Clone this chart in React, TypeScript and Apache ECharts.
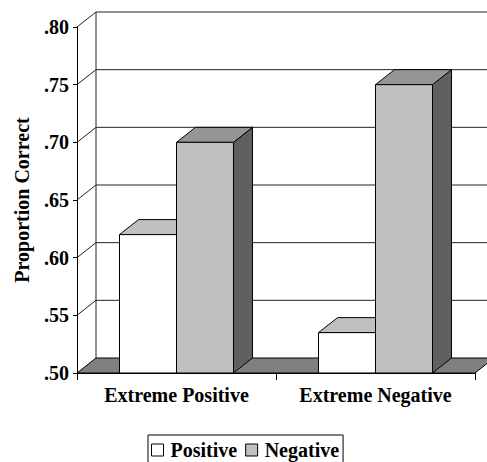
import React, { useEffect, useRef } from 'react';
import * as echarts from 'echarts';

const categories = ['Extreme Positive', 'Extreme Negative'];
const seriesNames = ['Positive', 'Negative'];
const positiveValues = [0.62, 0.535];
const negativeValues = [0.7, 0.75];
const yTicks = [0.5, 0.55, 0.6, 0.65, 0.7, 0.75, 0.8];

const FONT = "'Liberation Serif', 'Times New Roman', Times, serif";
const Y_MIN = 0.5;
const Y_MAX = 0.8;
const Y_STEP = 0.05;
const DX = 19;
const DY = 15;
const BAR_FRACTION = 0.2864;
const LINE = '#222';

function makeBarRenderer(leftSide: boolean, front: string, top: string, side: string) {
  return (params: any, api: any) => {
    const cat = api.value(0);
    const val = api.value(1);
    const topPt = api.coord([cat, val]);
    const basePt = api.coord([cat, Y_MIN]);
    const band = api.size([1, 0])[0];
    const w = band * BAR_FRACTION;
    const x = leftSide ? topPt[0] - w : topPt[0];
    const yT = topPt[1];
    const yB = basePt[1];
    const stroke = { stroke: '#000', lineWidth: 1 };
    return {
      type: 'group',
      children: [
        {
          type: 'polygon',
          shape: { points: [[x + w, yT], [x + w + DX, yT - DY], [x + w + DX, yB - DY], [x + w, yB]] },
          style: { fill: side, ...stroke },
        },
        {
          type: 'polygon',
          shape: { points: [[x, yT], [x + w, yT], [x + w + DX, yT - DY], [x + DX, yT - DY]] },
          style: { fill: top, ...stroke },
        },
        {
          type: 'rect',
          shape: { x, y: yT, width: w, height: yB - yT },
          style: { fill: front, ...stroke },
        },
      ],
    };
  };
}

function renderWalls(params: any, api: any) {
  const cs = params.coordSys;
  const x0 = cs.x;
  const x1 = cs.x + cs.width;
  const yTop = cs.y;
  const yBot = cs.y + cs.height;
  const children: any[] = [];
  yTicks.forEach((t) => {
    const y = api.coord([0, t])[1];
    if (t > Y_MIN) {
      children.push({
        type: 'line',
        shape: { x1: x0 + DX, y1: y - DY, x2: x1 + DX + 40, y2: y - DY },
        style: { stroke: LINE, lineWidth: 1 },
      });
      children.push({
        type: 'line',
        shape: { x1: x0, y1: y, x2: x0 + DX, y2: y - DY },
        style: { stroke: LINE, lineWidth: 1 },
      });
    }
  });
  children.push({
    type: 'line',
    shape: { x1: x0 + DX, y1: yTop - DY, x2: x0 + DX, y2: yBot - DY },
    style: { stroke: LINE, lineWidth: 1 },
  });
  children.push({
    type: 'polygon',
    shape: { points: [[x0, yBot], [x1, yBot], [x1 + DX, yBot - DY], [x0 + DX, yBot - DY]] },
    style: { fill: '#808080', stroke: '#000', lineWidth: 1 },
  });
  return { type: 'group', children };
}

export default function App() {
  const ref = useRef<HTMLDivElement>(null);
  useEffect(() => {
    if (!ref.current) return;
    const chart = echarts.init(ref.current, null, { renderer: 'svg' });
    chart.setOption({
      animation: false,
      backgroundColor: '#fff',
      grid: { left: 77, top: 27, width: 398, height: 346 },
      xAxis: {
        type: 'category',
        data: categories,
        axisLine: { show: true, lineStyle: { color: '#000', width: 1 } },
        axisTick: { show: true, length: 7, lineStyle: { color: '#000' } },
        axisLabel: {
          margin: 12,
          color: '#000',
          fontFamily: FONT,
          fontWeight: 'bold',
          fontSize: 20,
        },
        splitLine: { show: false },
      },
      yAxis: {
        type: 'value',
        min: Y_MIN,
        max: Y_MAX,
        interval: Y_STEP,
        name: 'Proportion Correct',
        nameLocation: 'middle',
        nameRotate: 90,
        nameGap: 45,
        nameTextStyle: { color: '#000', fontFamily: FONT, fontWeight: 'bold', fontSize: 20 },
        axisLine: { show: true, lineStyle: { color: '#000', width: 1 } },
        axisTick: { show: true, length: 4, lineStyle: { color: '#000' } },
        axisLabel: {
          margin: 8,
          color: '#000',
          fontFamily: FONT,
          fontWeight: 'bold',
          fontSize: 20,
          padding: [8, 0, 0, 0],
          formatter: (v: number) => v.toFixed(2).replace(/^0/, ''),
        },
        splitLine: { show: false },
      },
      legend: {
        data: seriesNames,
        left: 148,
        top: 435,
        icon: 'rect',
        itemWidth: 12,
        itemHeight: 12,
        itemGap: 8,
        borderColor: '#000',
        borderWidth: 1,
        padding: [5, 4, 16, 3],
        selectedMode: false,
        textStyle: { color: '#000', fontFamily: FONT, fontWeight: 'bold', fontSize: 20, padding: [0, 0, 0, 2] },
        itemStyle: { borderColor: '#000', borderWidth: 1 },
      },
      series: [
        {
          type: 'custom',
          name: 'walls',
          silent: true,
          z: 1,
          renderItem: renderWalls,
          data: [[0, Y_MIN]],
        },
        {
          type: 'custom',
          name: seriesNames[0],
          z: 2,
          itemStyle: { color: '#ffffff', borderColor: '#000', borderWidth: 1 },
          renderItem: makeBarRenderer(true, '#ffffff', '#c0c0c0', '#606060'),
          data: positiveValues.map((v, i) => [i, v]),
        },
        {
          type: 'custom',
          name: seriesNames[1],
          z: 3,
          itemStyle: { color: '#c0c0c0', borderColor: '#000', borderWidth: 1 },
          renderItem: makeBarRenderer(false, '#c0c0c0', '#969696', '#606060'),
          data: negativeValues.map((v, i) => [i, v]),
        },
      ],
    });
    return () => chart.dispose();
  }, []);
  return (
    <div
      ref={ref}
      style={{ position: 'absolute', left: 0, top: 0, width: 487, height: 462 }}
    />
  );
}
